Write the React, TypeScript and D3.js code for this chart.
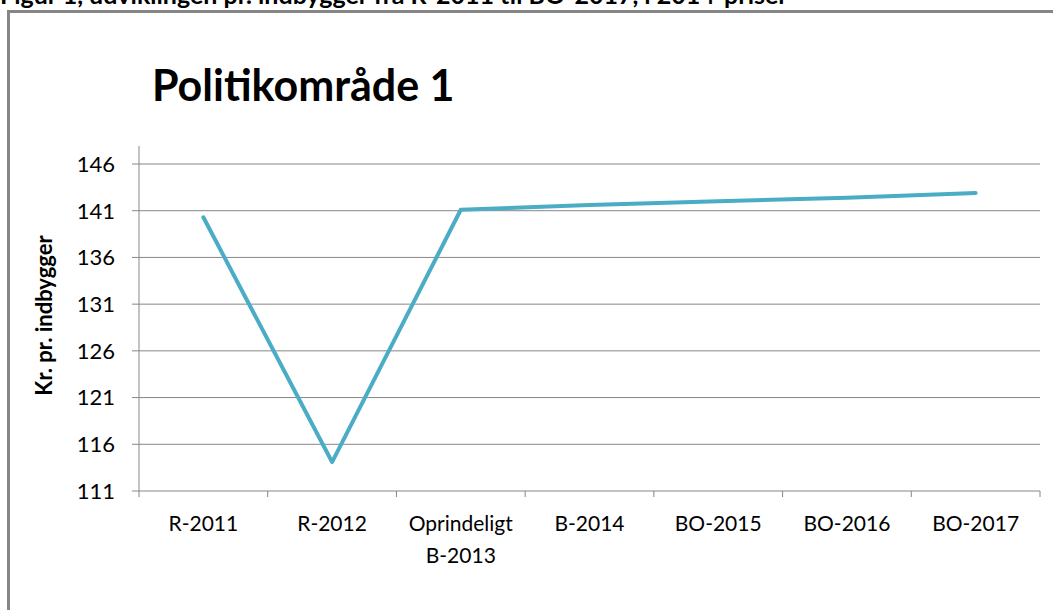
import React from "react";
import * as d3 from "d3";

const categories = ["R-2011", "R-2012", "Oprindeligt\nB-2013", "B-2014", "BO-2015", "BO-2016", "BO-2017"];
const values = [140.3, 114.1, 141.1, 141.6, 142.0, 142.4, 142.9];
const yTicks = [111, 116, 121, 126, 131, 136, 141, 146];

const chartTitle = "Politikområde 1";
const yLabel = "Kr. pr. indbygger";
const caption = "Figur 1, udviklingen pr. indbygger fra R-2011 til BO-2017, i 2014-priser";

const W = 1053;
const H = 610;
const margin = { top: 164, right: 13, bottom: 119, left: 139 };
const font = "Lato, 'Open Sans', sans-serif";
const grid = "#868686";

const App = () => {
  const innerW = W - margin.left - margin.right;
  const innerH = H - margin.top - margin.bottom;

  const x = d3.scaleBand().domain(categories).range([0, innerW]);
  const y = d3.scaleLinear().domain([111, 146]).range([innerH, 0]);

  const line = d3
    .line<number>()
    .x((_, i) => x(categories[i])! + x.bandwidth() / 2)
    .y((d) => y(d));

  return (
    <svg
      width={W}
      height={H}
      style={{ position: "absolute", left: 0, top: 0, background: "#fff" }}
      fontFamily={font}
    >
      {/* caption of the page above the chart, cut by the top edge as in the scan */}
      <text x={0} y={4} fontSize={25} fontWeight="bold" fill="#000">
        {caption}
      </text>
      {/* chart frame, runs off right and bottom edge */}
      <rect x={8.5} y={11.5} width={W + 20} height={H + 20} fill="none" stroke={grid} strokeWidth={3} />

      <text x={152} y={101} fontSize={43} fontWeight="bold" fill="#000">
        {chartTitle}
      </text>

      <text
        transform={`translate(52,${margin.top + innerH / 2 - 12}) rotate(-90)`}
        textAnchor="middle"
        fontSize={22}
        fontWeight="bold"
        fill="#000"
      >
        {yLabel}
      </text>

      <g transform={`translate(${margin.left},${margin.top})`}>
        {yTicks.map((t) => (
          <g key={t} transform={`translate(0,${y(t)})`}>
            <line x1={-7} x2={innerW} stroke={grid} strokeWidth={1} />
            <text x={-24} dy="0.36em" textAnchor="end" fontSize={22} fill="#000">
              {t}
            </text>
          </g>
        ))}
        <line x1={0} x2={0} y1={-18} y2={innerH + 6} stroke={grid} strokeWidth={1} />
        {categories.map((c, i) => (
          <line
            key={"t" + i}
            x1={x(c)! + x.bandwidth()}
            x2={x(c)! + x.bandwidth()}
            y1={innerH}
            y2={innerH + 6}
            stroke={grid}
          />
        ))}
        {categories.map((c) => (
          <text
            key={c}
            x={x(c)! + x.bandwidth() / 2}
            y={innerH + 40}
            textAnchor="middle"
            fontSize={21}
            fill="#000"
          >
            {c.split("\n").map((part, j) => (
              <tspan key={j} x={x(c)! + x.bandwidth() / 2} dy={j === 0 ? 0 : 32}>
                {part}
              </tspan>
            ))}
          </text>
        ))}
        <path d={line(values)!} fill="none" stroke="#4BACC6" strokeWidth={4} strokeLinejoin="round" strokeLinecap="round" />
      </g>
    </svg>
  );
};

export default App;
